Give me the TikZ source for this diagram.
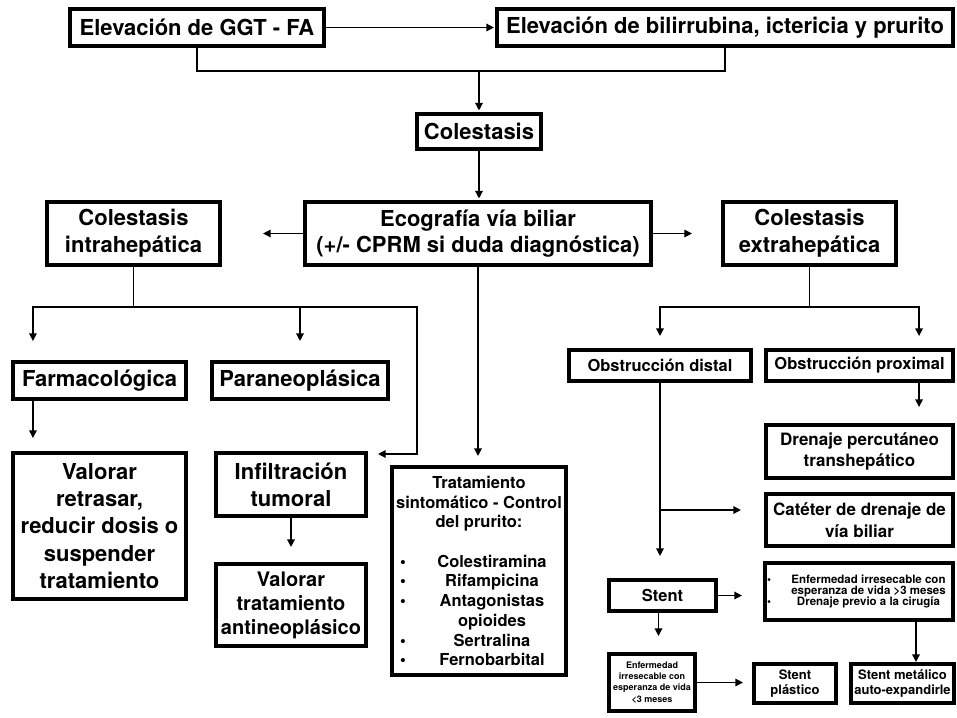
\documentclass[tikz,border=0pt]{standalone}
\usepackage{fontspec}
\setmainfont{TeX Gyre Heros}
\usetikzlibrary{arrows.meta}

\tikzset{
  box/.style={draw, line width=3.6pt, inner sep=0pt, align=center, font=\bfseries},
  conn/.style={line width=1.3pt},
  arr/.style={conn, -{Triangle[length=7.5pt,width=7.5pt]}},
  fbig/.style={font=\bfseries\fontsize{22}{27.3}\selectfont},
  fbigt/.style={font=\bfseries\fontsize{22}{26}\selectfont},
  fanti/.style={font=\bfseries\fontsize{20}{24}\selectfont},
  fmid/.style={font=\bfseries\fontsize{16.5}{19.7}\selectfont},
  fdren/.style={font=\bfseries\fontsize{17}{21.7}\selectfont},
  fst/.style={font=\bfseries\fontsize{13}{15}\selectfont},
  fsmall/.style={font=\bfseries\fontsize{11.5}{11.3}\selectfont},
  ftiny/.style={font=\bfseries\fontsize{9}{11.3}\selectfont},
}
% bullet list line: bullet column + centred item column
\newcommand\blt[3]{\makebox[#1][l]{\textbullet}\makebox[#2]{#3}}
\newcommand\nblt[3]{\makebox[#1][l]{}\makebox[#2]{#3}}

\begin{document}
\begin{tikzpicture}[x=1pt,y=-1pt]
\fill[white] (0,0) rectangle (957,717);
\useasboundingbox (0,0) rectangle (957,717);

% ---- top row
\node[box,fbig,minimum width=254.5pt,minimum height=37.5pt] (ggt) at (197,27.5) {Elevación de GGT - FA};
\node[box,fbig,minimum width=456.5pt,minimum height=37.5pt] (bili) at (725,27.5) {Elevación de bilirrubina, ictericia y prurito};
\node[box,fbig,minimum width=124.5pt,minimum height=35.5pt] (cole) at (479,131.5) {Colestasis};

% ---- second row
\node[box,fbigt,minimum width=346.5pt,minimum height=63.5pt] (eco) at (478,233.5) {Ecografía vía biliar\\(+/- CPRM si duda diagnóstica)};
\node[box,fbig,minimum width=173.5pt,minimum height=63.5pt] (intra) at (133.5,233.5) {Colestasis\\intrahepática};
\node[box,fbig,minimum width=173.5pt,minimum height=63.5pt] (extra) at (809.5,233.5) {Colestasis\\extrahepática};

% ---- intrahepatic branch
\node[box,fbig,minimum width=173.5pt,minimum height=37.5pt] (farm) at (99.5,380.5) {Farmacológica};
\node[box,fbig,minimum width=176.5pt,minimum height=37.5pt] (para) at (300,380.5) {Paraneoplásica};
\node[box,fbig,minimum width=173.5pt,minimum height=146.5pt] (valr) at (99.5,526) {Valorar\\retrasar,\\reducir dosis o\\suspender\\tratamiento};
\node[box,fbig,minimum width=150.5pt,minimum height=63.5pt] (infi) at (291,484.5) {Infiltración\\tumoral};
\node[box,fanti,minimum width=150.5pt,minimum height=82.5pt] (anti) at (291,605) {Valorar\\tratamiento\\antineoplásico};

% ---- symptomatic treatment
\node[box,fmid,minimum width=174.5pt,minimum height=208.5pt] (trat) at (479,571)
  {Tratamiento\\sintomático - Control\\del prurito:\\[19.7pt]
   \blt{26pt}{132pt}{Colestiramina}\\
   \blt{26pt}{132pt}{Rifampicina}\\
   \blt{26pt}{132pt}{Antagonistas}\\
   \nblt{26pt}{132pt}{opioides}\\
   \blt{26pt}{132pt}{Sertralina}\\
   \blt{26pt}{132pt}{Fernobarbital}};

% ---- extrahepatic branch
\node[box,fmid,minimum width=182.5pt,minimum height=31.5pt] (odis) at (660,365.5) {Obstrucción distal};
\node[box,fmid,minimum width=187.5pt,minimum height=31.5pt] (oprox) at (859.5,365.5) {Obstrucción proximal};
\node[box,fdren,minimum width=187.5pt,minimum height=53.5pt] (dren) at (859.5,451.5) {Drenaje percutáneo\\transhepático};
\node[box,fdren,minimum width=187.5pt,minimum height=52.5pt] (cat) at (859.5,520) {Catéter de drenaje de\\vía biliar};
\node[box,fmid,minimum width=107.5pt,minimum height=31.5pt] (stent) at (662.5,595.5) {Stent};
\node[box,fsmall,minimum width=188.5pt,minimum height=57.5pt] (may3) at (859,591.5)
  {\blt{19pt}{165pt}{Enfermedad irresecable con}\\
   \nblt{19pt}{165pt}{esperanza de vida >3 meses}\\
   \blt{19pt}{165pt}{Drenaje previo a la cirugía}};
\node[box,ftiny,minimum width=86.5pt,minimum height=57.5pt] (men3) at (652,682.5) {Enfermedad\\irresecable con\\esperanza de vida\\<3 meses};
\node[box,fst,minimum width=82.5pt,minimum height=39.5pt] (plas) at (795,683.5) {Stent\\plástico};
\node[box,fst,minimum width=103.5pt,minimum height=39.5pt] (meta) at (902.5,683.5) {Stent metálico\\auto-expandirle};

% ---- connectors: top
\coordinate (join) at (479,71);
\draw[arr,shorten >=1pt] (ggt.east) -- (bili.west);
\draw[conn] (ggt.south) |- (join) -| (bili.south);
\draw[arr,shorten >=1.5pt] (join) -- (cole.north);
\draw[arr,shorten >=1.5pt] (cole.south) -- (cole.south |- eco.north);
\draw[arr,shorten >=41pt] (eco.west) -- (eco.west -| intra.east);
\draw[arr,shorten >=29pt] (eco.east) -- (eco.east -| extra.west);

% ---- connectors: intrahepatic
\coordinate (ib) at (133.5,307);
\coordinate (ir) at (417,454);
\draw[conn] (intra.south) -- (ib);
\draw[arr] (ib) -| ([xshift=22pt,yshift=19pt]farm.north west);
\draw[arr] (ib) -| ([yshift=19pt]para.north);
\draw[arr,shorten >=10pt] (ib) -| (ir) -- (ir -| infi.east);
\draw[arr] ([xshift=22pt]farm.south west) -- ([xshift=22pt,yshift=13pt]valr.north west);
\draw[arr,shorten >=15pt] (infi.south) -- (anti.north);
\draw[arr,shorten >=9pt] (eco.south) -- (eco.south |- trat.north);

% ---- connectors: extrahepatic
\coordinate (eb) at (809.5,307);
\draw[conn] (extra.south) -- (eb);
\draw[arr,shorten >=12pt] (eb) -| (odis.north);
\draw[arr,shorten >=12pt] (eb) -| ([xshift=-36pt]oprox.north east);
\draw[arr,shorten >=16pt] ([xshift=-36pt]oprox.south east) -- ([xshift=-36pt]dren.north east);
\coordinate (ob) at (660,510);
\draw[arr,shorten >=22pt] (odis.south) -- (odis.south |- stent.north);
\draw[arr,shorten >=23pt] (ob) -- (ob -| cat.west);
\draw[arr,shorten >=21pt] (stent.east) -- (stent.east -| may3.west);
\draw[arr,shorten >=16pt] ([xshift=-4pt]stent.south) -- ([xshift=-4pt]stent.south |- men3.north);
\draw[arr,shorten >=9pt] (men3.east) -- (men3.east -| plas.west);
\draw[arr] ([xshift=57pt]may3.south) -- ([xshift=57pt]may3.south |- meta.north);
\end{tikzpicture}
\end{document}
